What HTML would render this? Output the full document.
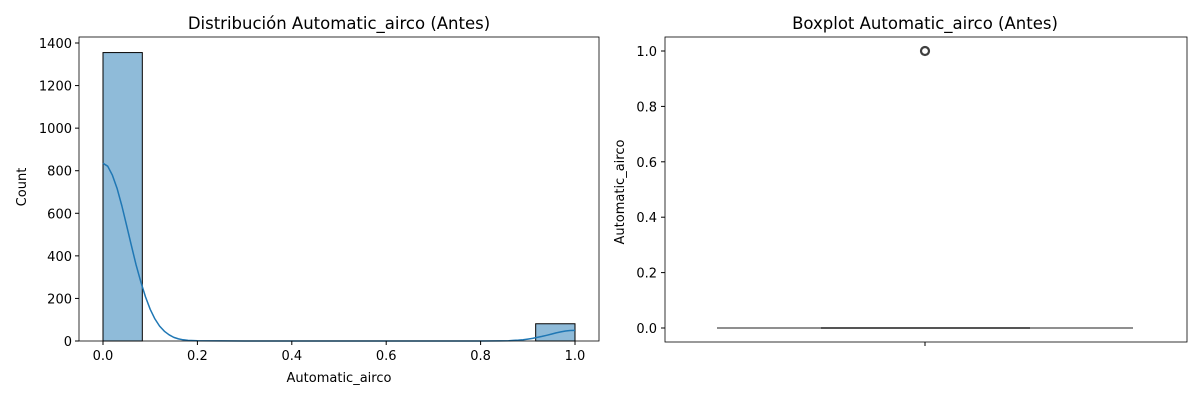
<!DOCTYPE html>
<html><head><meta charset="utf-8"><style>
body{margin:0;background:#fff;}
svg text{font-family:"DejaVu Sans","Liberation Sans",sans-serif;fill:#000;}
</style></head><body>
<svg id="chart" width="1200" height="400" xmlns="http://www.w3.org/2000/svg"></svg>
<script>
const binEdges=[0,0.0833,0.1667,0.25,0.3333,0.4167,0.5,0.5833,0.6667,0.75,0.8333,0.9167,1.0];
const binCounts=[1355,0,0,0,0,0,0,0,0,0,0,81];
const kdeX=[0,0.01,0.02,0.03,0.04,0.05,0.06,0.07,0.08,0.09,0.1,0.11,0.12,0.13,0.14,0.15,0.16,0.17,0.18,0.2,0.3,0.4,0.5,0.6,0.7,0.8,0.84,0.86,0.87,0.88,0.89,0.9,0.91,0.92,0.93,0.94,0.95,0.96,0.97,0.98,0.99,1.0];
const kdeY=[835,821,779,715,634,543,450,359,278,207,149,104,70,45.5,29,17,10,5.6,3,1,0,0,0,0,0,0,0.5,1.5,2.7,4,6.2,9,12.4,17,21.5,27,32.5,38,42.8,47,49.2,50];
const leftXTicks=[0,0.2,0.4,0.6,0.8,1.0];
const leftXLabels=["0.0","0.2","0.4","0.6","0.8","1.0"];
const leftYTicks=[0,200,400,600,800,1000,1200,1400];
const boxStats={whiskerLo:0,q1:0,median:0,q3:0,whiskerHi:0};
const outliers=[1];
const rightYTicks=[0,0.2,0.4,0.6,0.8,1.0];
const rightYLabels=["0.0","0.2","0.4","0.6","0.8","1.0"];

const svg=document.getElementById('chart');
const NS="http://www.w3.org/2000/svg";
function mk(tag,attrs,parent){const e=document.createElementNS(NS,tag);for(const k in attrs)e.setAttribute(k,attrs[k]);(parent||svg).appendChild(e);return e;}
function txt(s,x,y,attrs){const t=mk('text',Object.assign({x:x,y:y},attrs||{}));t.textContent=s;return t;}

const L={x0:79,x1:599,y0:37,y1:341};
const lx=v=>103+v*(575-103);
const ly=v=>341-v*(341-43)/1400;
const lg=mk('g',{});


binCounts.forEach((c,i)=>{
  if(c<=0)return;
  const r=mk('rect',{x:lx(binEdges[i]),y:ly(c),width:lx(binEdges[i+1])-lx(binEdges[i]),height:ly(0)-ly(c),fill:'#8fbbd9',stroke:'#000','stroke-width':1},lg);
  
  
});
const kp=kdeX.map((x,i)=>(i?'L':'M')+lx(x).toFixed(1)+','+ly(kdeY[i]).toFixed(1)).join(' ');
const kl=mk('path',{d:kp,fill:'none',stroke:'#1f77b4','stroke-width':1.5,'stroke-linejoin':'round'},lg);


mk('rect',{x:L.x0,y:L.y0,width:L.x1-L.x0,height:L.y1-L.y0,fill:'none',stroke:'#000','stroke-width':0.8});
leftXTicks.forEach((v,i)=>{mk('line',{x1:lx(v),x2:lx(v),y1:341,y2:345,stroke:'#000'});
  const t=txt(leftXLabels[i],lx(v),360,{'font-size':13,'text-anchor':'middle'});
  });
leftYTicks.forEach(v=>{mk('line',{x1:75,x2:79,y1:ly(v),y2:ly(v),stroke:'#000'});
  const t=txt(String(v),72,ly(v)+5,{'font-size':13,'text-anchor':'end'});
  });
let t=txt('Automatic_airco',339,382,{'font-size':13,'text-anchor':'middle'});

t=txt('Count',26,187,{'font-size':13,'text-anchor':'middle',transform:'rotate(-90 26 187)'});

t=txt('Distribución Automatic_airco (Antes)',339,29,{'font-size':16.5,'text-anchor':'middle'});


const R={x0:665,x1:1187,y0:37,y1:342};
const ry=v=>328-v*(328-51);
const cx=925;
const rg=mk('g',{});


const w1=mk('line',{x1:717,x2:1133,y1:ry(boxStats.whiskerLo),y2:ry(boxStats.whiskerHi),stroke:'#6a6a6a','stroke-width':1.5},rg);

const bx=mk('line',{x1:821,x2:1030,y1:ry(boxStats.q1),y2:ry(boxStats.q3),stroke:'#555','stroke-width':2},rg);

outliers.forEach(v=>{const c=mk('circle',{cx:cx,cy:ry(v),r:4,fill:'none',stroke:'#3f3f3f','stroke-width':2.2},rg);
  });
mk('rect',{x:R.x0,y:R.y0,width:R.x1-R.x0,height:R.y1-R.y0,fill:'none',stroke:'#000','stroke-width':0.8});
mk('line',{x1:cx,x2:cx,y1:342,y2:346,stroke:'#000'});
rightYTicks.forEach((v,i)=>{mk('line',{x1:661,x2:665,y1:ry(v),y2:ry(v),stroke:'#000'});
  const t=txt(rightYLabels[i],657,ry(v)+5,{'font-size':13,'text-anchor':'end'});
  });
t=txt('Automatic_airco',624,192,{'font-size':13,'text-anchor':'middle',transform:'rotate(-90 624 192)'});

t=txt('Boxplot Automatic_airco (Antes)',925,29,{'font-size':16.5,'text-anchor':'middle'});

</script>
</body></html>
